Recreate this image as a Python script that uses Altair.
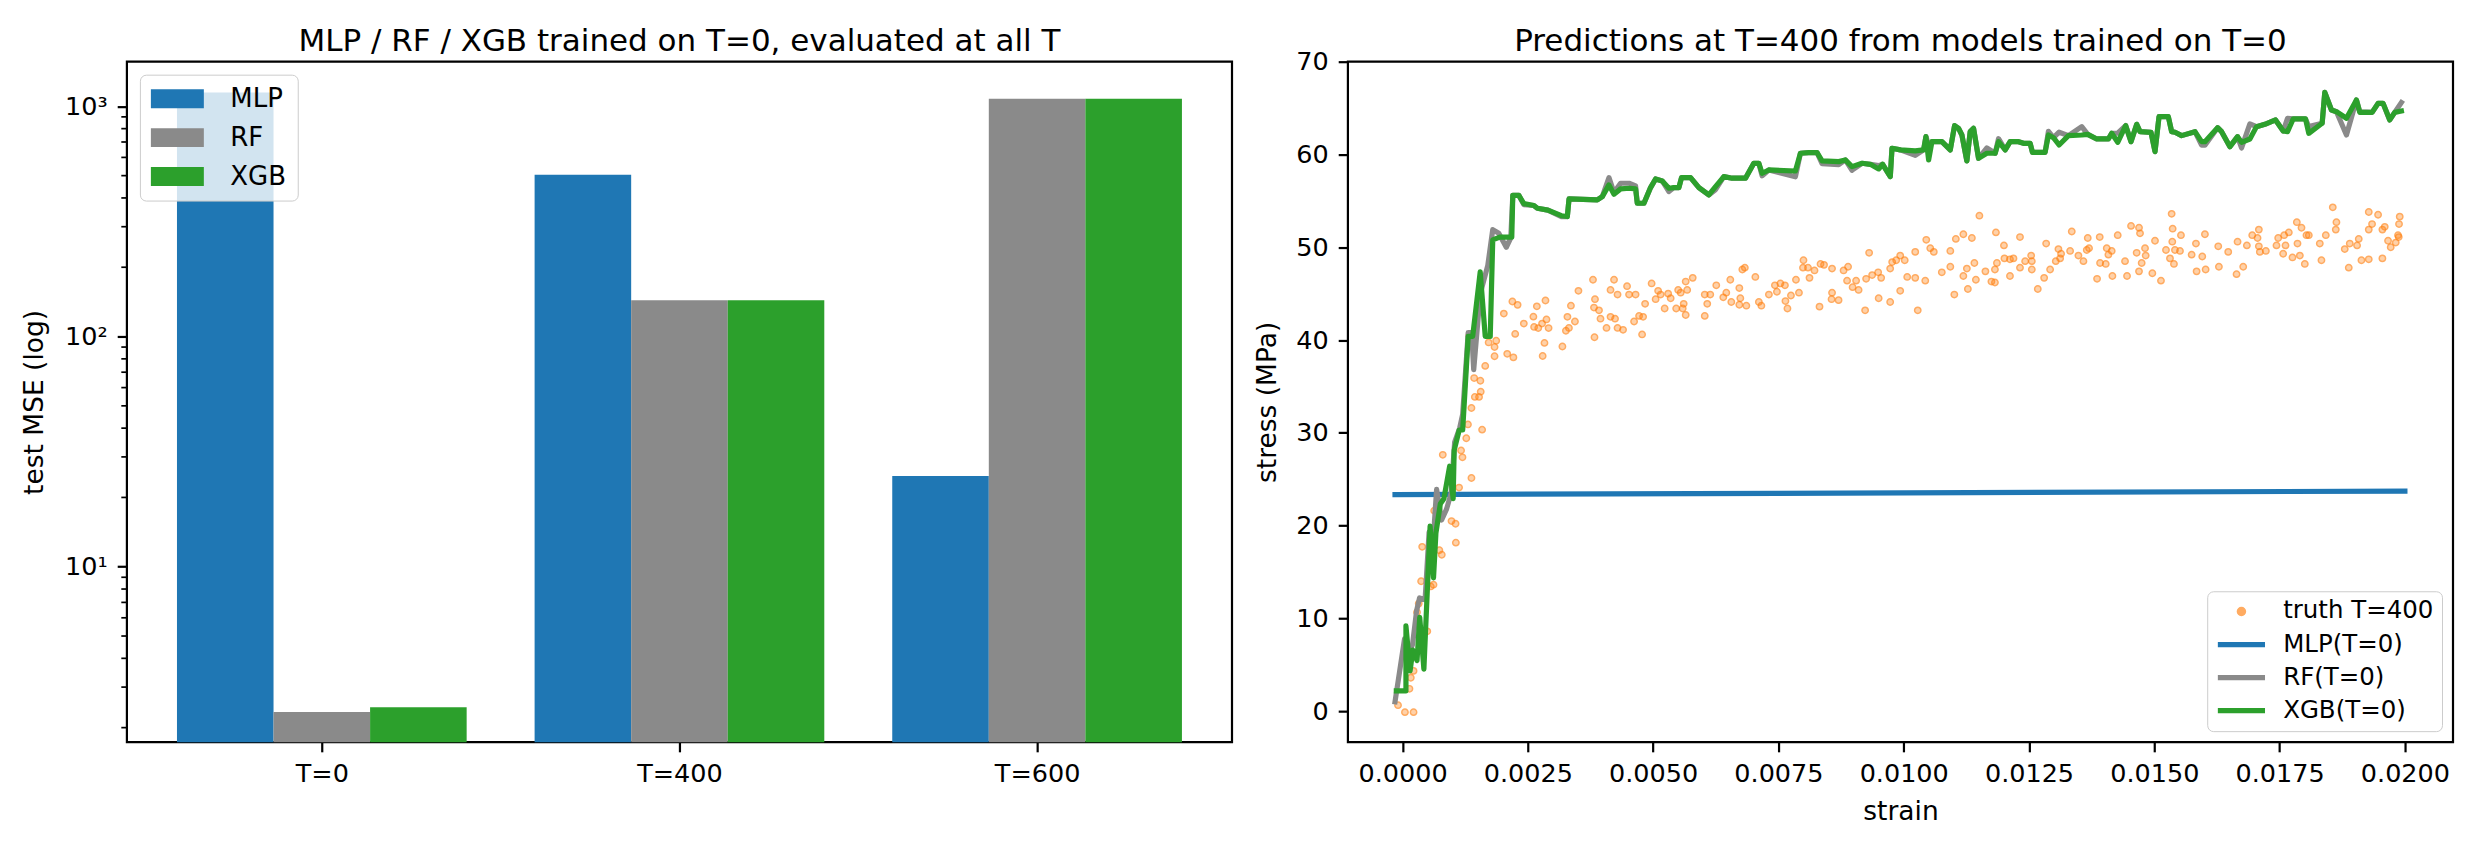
import json
import altair as alt
import pandas as pd

FONT = "DejaVu Sans"

# ---------------- left panel data ----------------
categories = ["T=0", "T=400", "T=600"]
models = ["MLP", "RF", "XGB"]
mlp_mse = [1147, 504, 24.8]
rf_mse = [2.34, 143.6, 1079]
xgb_mse = [2.45, 143.6, 1079]
bar_colors = ["#1f77b4", "#8a8a8a", "#2ca02c"]
log_ticks = [10, 100, 1000]
minor_ticks = [2, 3, 4, 5, 6, 7, 8, 9, 20, 30, 40, 50, 60, 70, 80, 90,
               200, 300, 400, 500, 600, 700, 800, 900]

# ---------------- right panel data ----------------
truth_strain = [
    -0.00009, 0.000048, 0.00022, 0.000138, 0.000165, 0.00022, 0.000289, 0.000323, 0.000371, 0.000494,
    0.000618, 0.000564, 0.000392, 0.000735, 0.000783, 0.000632, 0.000977, 0.001058, 0.001064, 0.000803,
    0.001196, 0.001168, 0.001128, 0.001375, 0.001272, 0.001305, 0.001588, 0.001375, 0.001443, 0.001527,
    0.00156, 0.001429, 0.001553, 0.00165, 0.001836, 0.002089, 0.002212, 0.001718, 0.001836, 0.001869,
    0.001333, 0.002021, 0.002192, 0.002296, 0.00242, 0.002248, 0.002611, 0.00268, 0.002852, 0.002625,
    0.002708, 0.002784, 0.002872, 0.002914, 0.002832, 0.002796,
    0.00319, 0.00326, 0.00332, 0.00329, 0.00344, 0.00336, 0.00351, 0.00380, 0.00384, 0.00382,
    0.00392, 0.00395, 0.00407, 0.00415, 0.00424, 0.00429, 0.00440, 0.00383, 0.00415, 0.00422,
    0.00429, 0.00448, 0.00452, 0.00465, 0.00462, 0.00472, 0.00480, 0.00478, 0.00484, 0.00497,
    0.00505, 0.00510, 0.00515, 0.00523, 0.00530, 0.00535, 0.00546, 0.00550, 0.00555, 0.00561,
    0.00559, 0.00565, 0.00568, 0.00565, 0.00579, 0.00603, 0.00603, 0.00614, 0.00608, 0.00626,
    0.00640, 0.00646, 0.00654, 0.00656, 0.00672, 0.00674, 0.00672, 0.00678, 0.00683, 0.00686,
    0.00704, 0.00711, 0.00716, 0.00731, 0.00743, 0.00747, 0.00754, 0.00763, 0.00764, 0.00768,
    0.00775, 0.00785, 0.00791, 0.00800, 0.00799, 0.00809, 0.00812, 0.00822, 0.00832, 0.00834,
    0.00841, 0.00857, 0.00857, 0.00856, 0.00870, 0.00880, 0.00889, 0.00887, 0.00898, 0.00905,
    0.00910, 0.00923, 0.00925, 0.00931, 0.00937, 0.00949, 0.00950, 0.00955, 0.00973, 0.00973,
    0.00977, 0.00985, 0.00993, 0.00993, 0.01002, 0.01007, 0.01023, 0.01023, 0.01028, 0.01043,
    0.01045, 0.01053, 0.01060, 0.01076, 0.01093, 0.01093, 0.01101, 0.01104, 0.01119, 0.01119,
    0.01126, 0.01128, 0.01136, 0.01141, 0.01144, 0.01151, 0.01163, 0.01175, 0.01182, 0.01184,
    0.01186, 0.01182, 0.01200, 0.01201, 0.01212, 0.01212, 0.01219, 0.01232, 0.01232,
    0.012543, 0.012556, 0.012556, 0.012423, 0.012675, 0.012802, 0.012842, 0.012921, 0.013034, 0.013087,
    0.013140, 0.013121, 0.013320, 0.013353, 0.013486, 0.013586, 0.013652, 0.013698, 0.013672, 0.013858,
    0.013911, 0.013918, 0.014031, 0.014051, 0.014084, 0.014150, 0.014164, 0.014270, 0.014416, 0.014456,
    0.014536, 0.014648, 0.014695, 0.014715, 0.014695, 0.014748, 0.014815, 0.014828, 0.014961, 0.015014,
    0.015133, 0.015233, 0.015313, 0.015346, 0.015366, 0.015359, 0.015412, 0.015512, 0.015532, 0.015392,
    0.015745, 0.015831, 0.015844, 0.015957, 0.016010, 0.016024, 0.016276, 0.016289, 0.016475, 0.016661,
    0.016641, 0.016774, 0.016847, 0.016954, 0.017060, 0.017086, 0.017086, 0.017106, 0.017226, 0.017438,
    0.017472, 0.017571, 0.017618, 0.017591, 0.017684, 0.017757, 0.017844, 0.017857, 0.017904, 0.017937,
    0.018003, 0.018036, 0.018083, 0.018302, 0.018335, 0.018422, 0.018561, 0.018634, 0.018621, 0.018800,
    0.018880, 0.018900, 0.019046, 0.019079, 0.019133, 0.019279, 0.019279, 0.019279, 0.019345, 0.019465,
    0.019551, 0.019551, 0.019598, 0.019664, 0.019717, 0.019817, 0.019863, 0.019883, 0.019897, 0.019877,
]
truth_stress = [
    0.64, -0.11, -0.11, 2.41, 3.60, 4.34, 10.66, 11.59, 14.0, 8.6,
    13.63, 13.44, 17.71, 17.34, 16.86, 21.61, 20.49, 20.2, 18.16, 27.63,
    27.36, 28.1, 24.1, 25.13, 29.41, 30.9, 30.34, 32.67, 33.87, 33.87,
    34.43, 35.9, 35.61, 37.21, 38.25, 38.51, 38.13, 39.74, 39.25, 39.92,
    40.48, 42.85, 44.15, 43.79, 41.77, 40.66, 42.52, 43.63, 44.26, 41.41,
    41.29, 41.77, 42.22, 41.29, 39.69, 38.28,
    39.3, 41.0, 41.3, 42.5, 42.0, 43.7, 45.3, 46.5, 44.4, 43.5,
    43.2, 42.3, 41.3, 42.5, 42.3, 41.3, 41.1, 40.3, 45.4, 46.5,
    44.9, 45.8, 44.9, 44.9, 42.0, 42.6, 42.5, 40.6, 43.9, 46.1,
    44.4, 45.3, 44.9, 43.4, 45.0, 44.5, 43.4, 45.4, 45.1, 43.9,
    43.4, 42.7, 45.4, 46.3, 46.7, 42.6, 44.9, 44.9, 43.9, 45.9,
    44.6, 45.1, 46.5, 44.1, 45.6, 44.5, 43.8, 47.6, 47.8, 43.7,
    46.8, 44.1, 43.7, 44.9, 45.9, 45.2, 46.1, 45.9, 44.2, 43.4,
    44.8, 46.5, 45.1, 48.6, 47.8, 47.8, 46.7, 47.5, 43.6, 48.2,
    48.1, 47.7, 45.1, 44.4, 44.3, 47.5, 47.9, 46.4, 45.7, 46.4,
    45.4, 43.2, 46.6, 49.4, 47.0, 47.3, 44.5, 46.7, 44.1, 47.7,
    48.4, 48.6, 49.1, 45.3, 48.6, 46.8, 49.5, 46.7, 43.2, 46.4,
    50.8, 49.9, 49.5, 47.3, 49.6, 47.9, 44.9, 50.9, 51.4, 46.9,
    47.7, 45.5, 51.0, 48.3, 46.5, 53.4, 47.4, 46.3, 47.6, 51.6,
    48.3, 46.2, 50.2, 48.8, 48.7, 46.9, 48.8, 51.1, 47.8,
    49.1, 48.5, 47.6, 48.5, 45.5, 46.7, 50.4, 47.6, 48.5, 49.8,
    49.3, 48.8, 49.6, 51.7, 49.1, 48.5, 49.7, 49.9, 51.0, 46.6,
    51.1, 48.3, 48.2, 49.9, 49.2, 49.6, 46.9, 51.3, 48.5, 46.9,
    52.3, 49.4, 52.1, 51.5, 47.4, 48.3, 49.9, 49.1, 47.2, 50.7,
    46.4, 49.7, 48.8, 53.6, 52.0, 50.6, 49.7, 49.6, 51.3, 48.2,
    49.2, 50.4, 47.4, 49.0, 51.4, 47.6, 50.1, 47.9, 49.5, 50.6,
    47.1, 47.9, 50.2, 51.3, 51.0, 51.9, 50.1, 49.5, 49.6, 50.2,
    51.0, 49.3, 50.2, 51.3, 51.6, 48.9, 52.7, 50.4, 49.1, 52.1,
    48.2, 51.3, 51.3, 50.4, 48.6, 51.3, 54.3, 52.7, 51.9, 49.8,
    47.8, 50.4, 50.2, 50.9, 48.6, 53.8, 48.7, 51.9, 52.5, 53.5,
    48.8, 51.9, 52.2, 50.7, 50.0, 50.5, 51.3, 52.5, 53.3, 51.1,
]

mlp_strain = [-0.00015, 0.0075, 0.02]
mlp_stress = [23.34, 23.48, 23.72]

xgb_strain = [
    -0.000124, 0.000068, 0.000068, 0.000151, 0.000205, 0.000289, 0.000343, 0.000426, 0.00055, 0.000618,
    0.000666, 0.000755, 0.000825, 0.00094, 0.00101, 0.00103, 0.00113, 0.0012, 0.00131, 0.0014,
    0.00155, 0.00165, 0.00175, 0.0018, 0.00194, 0.00218, 0.0022, 0.00232, 0.00242, 0.00262,
    0.00269, 0.0029, 0.00317,
    0.003288, 0.003322, 0.003886, 0.003986, 0.004119, 0.004219, 0.004351, 0.004518, 0.00465, 0.004684,
    0.004817, 0.004949, 0.005049, 0.005182, 0.005315, 0.005415, 0.005514, 0.005567, 0.005747, 0.005913,
    0.006112, 0.006245, 0.006411, 0.006577, 0.006843, 0.007009, 0.007109, 0.007175, 0.007308, 0.007839,
    0.007939, 0.008105, 0.008271, 0.008371, 0.008703, 0.008835, 0.008969, 0.009168, 0.009334, 0.0095,
    0.00958, 0.009732, 0.009766, 0.009932, 0.010231, 0.010397, 0.010443, 0.010497, 0.010563, 0.010762,
    0.010928, 0.011015, 0.011095, 0.011161, 0.01126, 0.011327, 0.011393, 0.011493, 0.011659, 0.011825,
    0.011892, 0.012025, 0.012124, 0.012291,
    0.01239, 0.012523, 0.012569, 0.012821, 0.012888, 0.012988, 0.0131, 0.013287, 0.013552, 0.013672,
    0.013851, 0.014084, 0.01415, 0.01427, 0.014429, 0.014535, 0.014649, 0.014715, 0.014934, 0.015014,
    0.015094, 0.01528, 0.015346, 0.015413, 0.015545, 0.015811, 0.015944, 0.01601, 0.016263, 0.016343,
    0.016509, 0.016661, 0.016741, 0.016907, 0.01704, 0.017206, 0.017419, 0.017572, 0.017658, 0.017771,
    0.018017, 0.018083, 0.018349, 0.018402, 0.018535, 0.018635, 0.018834, 0.019033, 0.0191, 0.019346,
    0.019465, 0.019565, 0.019698, 0.019797, 0.01993,
]
xgb_stress = [
    2.19, 2.19, 9.18, 4.34, 6.57, 5.46, 10.1, 4.53, 19.95, 14.37,
    19.2, 22.36, 22.9, 26.4, 22.9, 28.1, 30.3, 30.3, 40.4, 40.4,
    47.35, 40.4, 40.4, 50.8, 51.1, 51.1, 55.6, 55.6, 54.7, 54.5,
    54.2, 54.0, 53.4,
    53.31, 55.21, 55.10, 55.46, 56.72, 55.71, 56.29, 56.36, 56.29, 54.74,
    54.74, 56.43, 57.36, 57.15, 56.36, 56.43, 56.43, 57.51, 57.51, 56.43,
    55.64, 56.54, 57.61, 57.44, 57.44, 59.05, 59.05, 57.97, 58.33, 58.22,
    60.13, 60.2, 60.2, 59.3, 59.23, 59.41, 58.69, 59.05, 58.94, 58.44,
    58.94, 57.61, 60.67, 60.49, 60.38, 60.49, 61.92, 59.41, 61.38, 61.38,
    60.49, 63.11, 62.82, 62.1, 59.3, 62.46, 62.82, 59.59, 60.13, 60.13,
    61.38, 60.49, 61.38, 61.38,
    61.2, 61.2, 60.23, 60.23, 62.1, 61.81, 61.02, 62.03, 62.1, 62.17,
    61.67, 61.67, 62.28, 61.31, 63.11, 61.38, 63.25, 62.46, 62.39, 60.31,
    64.07, 64.07, 62.46, 62.39, 62.03, 62.46, 61.38, 61.38, 62.89, 62.46,
    60.84, 61.92, 61.31, 61.67, 63.0, 63.25, 63.72, 62.53, 62.46, 63.83,
    63.83, 62.28, 63.36, 66.7, 64.79, 64.61, 63.9, 65.87, 64.54, 64.54,
    65.51, 65.51, 63.72, 64.54, 64.68,
]

rf_strain = [
    -0.00015, 0.00004, 0.00012, 0.0002, 0.00028, 0.00034, 0.00045, 0.00053, 0.00062, 0.00068,
    0.00078, 0.00088, 0.00097, 0.00104, 0.00114, 0.0012, 0.00131, 0.00138, 0.00142, 0.00155,
    0.0017, 0.0018, 0.00192, 0.00207, 0.00216, 0.0022, 0.00232, 0.00242, 0.00262, 0.00269,
    0.0029, 0.00317,
    0.003288, 0.003322, 0.003886, 0.003986, 0.004119, 0.004219, 0.004351, 0.004518, 0.00465, 0.004684,
    0.004817, 0.004949, 0.005049, 0.005182, 0.005315, 0.005415, 0.005514, 0.005567, 0.005747, 0.005913,
    0.006112, 0.006245, 0.006411, 0.006577, 0.006843, 0.007009, 0.007109, 0.007175, 0.007308, 0.007839,
    0.007939, 0.008105, 0.008271, 0.008371, 0.008703, 0.008835, 0.008969, 0.009168, 0.009334, 0.0095,
    0.00958, 0.009732, 0.009766, 0.009932, 0.010231, 0.010397, 0.010443, 0.010497, 0.010563, 0.010762,
    0.010928, 0.011015, 0.011095, 0.011161, 0.01126, 0.011327, 0.011393, 0.011493, 0.011659, 0.011825,
    0.011892, 0.012025, 0.012124, 0.012291,
    0.01239, 0.012523, 0.012569, 0.012821, 0.012888, 0.012988, 0.0131, 0.013287, 0.013552, 0.013672,
    0.013851, 0.014084, 0.01415, 0.01427, 0.014429, 0.014535, 0.014649, 0.014715, 0.014934, 0.015014,
    0.015094, 0.01528, 0.015346, 0.015413, 0.015545, 0.015811, 0.015944, 0.01601, 0.016263, 0.016343,
    0.016509, 0.016661, 0.016741, 0.016907, 0.01704, 0.017206, 0.017419, 0.017572, 0.017658, 0.017771,
    0.018017, 0.018083, 0.018349, 0.018402, 0.018535, 0.018635, 0.018834, 0.019033, 0.0191, 0.019346,
    0.019465, 0.019565, 0.019698, 0.019797, 0.01993,
]
rf_stress = [
    1.0, 7.8, 6.0, 7.2, 10.8, 12.2, 12.0, 19.3, 19.0, 23.9,
    20.6, 21.8, 23.5, 29.0, 30.5, 32.0, 40.8, 40.8, 36.8, 45.0,
    48.0, 51.9, 51.5, 50.0, 51.0, 55.6, 55.6, 54.6, 54.5, 54.2,
    54.0, 53.3,
    53.31, 55.21, 55.10, 55.46, 57.5, 55.9, 56.9, 56.9, 56.6, 54.74,
    54.74, 56.43, 57.36, 57.15, 56.0, 56.43, 56.43, 57.51, 57.51, 56.43,
    55.64, 56.2, 57.61, 57.44, 57.44, 59.05, 59.05, 57.7, 58.33, 57.6,
    60.13, 60.2, 60.2, 59.0, 58.9, 59.41, 58.3, 59.05, 58.94, 58.8,
    58.94, 57.61, 60.67, 60.49, 59.9, 60.49, 61.92, 61.0, 61.38, 61.38,
    60.49, 63.11, 62.82, 62.1, 59.3, 62.46, 62.82, 59.59, 60.7, 60.13,
    61.7, 60.49, 61.38, 61.38,
    61.2, 61.2, 60.23, 60.23, 62.5, 61.81, 62.4, 62.03, 63.0, 62.17,
    61.67, 61.67, 62.28, 62.3, 63.11, 61.38, 63.25, 62.46, 62.39, 60.31,
    64.07, 64.07, 62.46, 62.39, 62.03, 62.46, 61.0, 61.0, 62.89, 62.46,
    60.84, 61.92, 60.7, 63.3, 63.0, 63.25, 63.72, 62.53, 63.9, 63.83,
    63.83, 63.0, 63.36, 66.7, 64.79, 64.61, 62.1, 65.87, 64.6, 64.54,
    65.51, 65.51, 63.72, 64.54, 65.6,
]

series_names = ["truth T=400", "MLP(T=0)", "RF(T=0)", "XGB(T=0)"]
series_colors = ["#ff7f0e", "#1f77b4", "#8a8a8a", "#2ca02c"]
series_shapes = ["circle", "M-5.9,0H5.9", "M-5.9,0H5.9", "M-5.9,0H5.9"]
series_widths = [1.5, 5.2, 5.2, 5.2]
series_opacity = [0.65, 1, 1, 1]
strain_ticks = [0.0, 0.0025, 0.005, 0.0075, 0.01, 0.0125, 0.015, 0.0175, 0.02]
stress_ticks = [0, 10, 20, 30, 40, 50, 60, 70]

W, H = 1106, 681
BAR_W = 0.27
TICK_FS, TITLE_FS, AXT_FS = 25.5, 31, 26.5

# ---------------- left panel ----------------
rows = []
for i, cat in enumerate(categories):
    for j, (m, vals) in enumerate(zip(models, [mlp_mse, rf_mse, xgb_mse])):
        x0 = i + (j - 1) * BAR_W - BAR_W / 2
        rows.append({"cat": cat, "model": m, "mse": vals[i], "x0": x0, "x1": x0 + BAR_W})
bars_df = pd.DataFrame(rows)

yscale_log = alt.Scale(type="log", domain=[1.73, 1563], nice=False)
xscale_bar = alt.Scale(domain=[-0.545, 2.545], nice=False, zero=False)

cat_label_expr = json.dumps(categories) + "[datum.value]"

yaxis_l = alt.Axis(values=log_ticks,
                   labelExpr="datum.value == 10 ? '10¹' : datum.value == 100 ? '10²' : '10³'",
                   title="test MSE (log)", titleX=-78, titleY=H / 2,
                   titleAngle=270, titleAlign="center")

bar_legend = alt.Legend(
    title=None, orient="top-left", offset=13, padding=11,
    symbolType="M-2.65,-0.95H2.65V0.95H-2.65Z", symbolSize=400, symbolStrokeWidth=0,
    symbolOffset=13.5, labelOffset=40, rowPadding=13,
    labelFont=FONT, labelFontSize=26, labelColor="black",
    fillColor="rgba(255,255,255,0.8)", strokeColor="#cccccc", cornerRadius=6,
)

bars = alt.Chart(bars_df).mark_rect().encode(
    x=alt.X("x0:Q", scale=xscale_bar,
            axis=alt.Axis(values=[0, 1, 2], labelExpr=cat_label_expr, title=None)),
    x2="x1:Q",
    y=alt.Y("mse:Q", scale=yscale_log, axis=yaxis_l),
    y2=alt.value(H),
    color=alt.Color("model:N", scale=alt.Scale(domain=models, range=bar_colors), legend=bar_legend),
)

minor_df = pd.DataFrame({"v": minor_ticks})
minor = alt.Chart(minor_df).mark_rule(color="black", strokeWidth=1.7).encode(
    x=alt.value(0), x2=alt.value(-5.6),
    y=alt.Y("v:Q", scale=yscale_log, axis=yaxis_l),
)

left = alt.layer(bars, minor).properties(
    width=W, height=H,
    title=alt.TitleParams("MLP / RF / XGB trained on T=0, evaluated at all T", font=FONT,
                          fontSize=TITLE_FS, fontWeight="normal", anchor="middle", frame="group",
                          baseline="alphabetic", offset=-20.3, color="black"),
)

# ---------------- right panel ----------------
truth_df = pd.DataFrame({"strain": truth_strain, "stress": truth_stress, "series": series_names[0]})
line_rows = []
for name, xs, ys in [(series_names[1], mlp_strain, mlp_stress),
                     (series_names[2], rf_strain, rf_stress),
                     (series_names[3], xgb_strain, xgb_stress)]:
    for k, (a, b) in enumerate(zip(xs, ys)):
        line_rows.append({"strain": a, "stress": b, "series": name, "i": k})
lines_df = pd.DataFrame(line_rows)

xscale_r = alt.Scale(domain=[-0.00109, 0.02096], nice=False, zero=False)
yscale_r = alt.Scale(domain=[-3.34, 70.0], nice=False, zero=False)
color_r = alt.Scale(domain=series_names, range=series_colors)
shape_r = alt.Scale(type="ordinal", domain=series_names, range=series_shapes)
width_r = alt.Scale(type="ordinal", domain=series_names, range=series_widths)
opac_r = alt.Scale(type="ordinal", domain=series_names, range=series_opacity)

right_legend = alt.Legend(
    title=None, orient="bottom-right", offset=11, padding=8,
    symbolSize=64, symbolOffset=14, labelOffset=29.5, rowPadding=8.1,
    labelFont=FONT, labelFontSize=24.5, labelColor="black",
    fillColor="rgba(255,255,255,0.8)", strokeColor="#cccccc", cornerRadius=6,
)

xaxis_r = alt.Axis(values=strain_ticks, format=".4f", title="strain",
                   titleY=77, titleBaseline="alphabetic")
yaxis_r = alt.Axis(values=stress_ticks, title="stress (MPa)", titleX=-66, titleY=H / 2,
                   titleAngle=270, titleAlign="center")

points = alt.Chart(truth_df).mark_point(
    filled=False, fill=series_colors[0], fillOpacity=0.55, size=40,
).encode(
    x=alt.X("strain:Q", scale=xscale_r, axis=xaxis_r),
    y=alt.Y("stress:Q", scale=yscale_r, axis=yaxis_r),
    color=alt.Color("series:N", scale=color_r, legend=right_legend),
    shape=alt.Shape("series:N", scale=shape_r, legend=right_legend),
    strokeWidth=alt.StrokeWidth("series:N", scale=width_r, legend=right_legend),
    opacity=alt.Opacity("series:N", scale=opac_r, legend=right_legend),
)

lines = alt.Chart(lines_df).mark_line(strokeJoin="round", strokeCap="square").encode(
    x=alt.X("strain:Q", scale=xscale_r, axis=xaxis_r),
    y=alt.Y("stress:Q", scale=yscale_r, axis=yaxis_r),
    color=alt.Color("series:N", scale=color_r, legend=right_legend),
    strokeWidth=alt.StrokeWidth("series:N", scale=width_r, legend=right_legend),
    opacity=alt.Opacity("series:N", scale=opac_r, legend=right_legend),
    order=alt.Order("i:Q"),
)

right = alt.layer(points, lines).properties(
    width=W, height=H,
    title=alt.TitleParams("Predictions at T=400 from models trained on T=0", font=FONT,
                          fontSize=TITLE_FS, fontWeight="normal", anchor="middle", frame="group",
                          baseline="alphabetic", offset=-32.7, color="black"),
)

chart = alt.hconcat(left, right, spacing=116, bounds="flush").resolve_scale(
    color="independent", shape="independent", strokeWidth="independent",
    opacity="independent", x="independent", y="independent",
).resolve_legend(
    color="independent", shape="independent", strokeWidth="independent", opacity="independent",
).properties(
    padding={"left": 12, "top": 16.4, "right": 5, "bottom": 5},
    background="white",
).configure_view(
    stroke="black", strokeWidth=2.2,
).configure_axis(
    labelFont=FONT, labelFontSize=TICK_FS, labelColor="black",
    titleFont=FONT, titleFontSize=AXT_FS, titleFontWeight="normal", titleColor="black",
    tickSize=9.7, tickWidth=2.2, tickColor="black",
    domain=False, grid=False, labelPadding=10,
    labelFlush=False, labelOverlap=False, labelBound=False,
)

chart.save("out.html", embed_options={"renderer": "svg", "actions": False})
